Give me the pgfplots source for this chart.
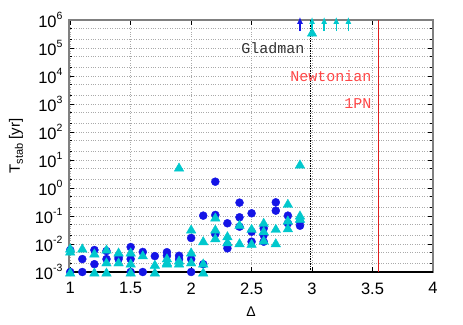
\documentclass[border=0pt]{standalone}
\usepackage{fontspec}
\setmainfont{Liberation Sans}
\newfontfamily\monofont{Liberation Mono}
\usepackage{pgfplots}
\pgfplotsset{compat=1.18}
\usetikzlibrary{arrows.meta}

\definecolor{ptblue}{RGB}{20,20,230}
\definecolor{ptcyan}{RGB}{0,200,205}
\definecolor{gridgray}{RGB}{170,170,170}
\definecolor{linered}{RGB}{225,30,30}
\definecolor{txtred}{RGB}{255,70,70}

\newcommand{\ex}[1]{10\raisebox{7.5pt}{\fontsize{10.5}{12}\selectfont #1}}

\begin{document}
\begin{tikzpicture}
\begin{axis}[
    at={(0,0)}, anchor=south west,
    scale only axis,
    width=364pt, height=252pt,
    ymode=log, log basis y=10,
    xmin=0.99, xmax=4,
    ymin=1e-3, ymax=1e6,
    clip=false,
    xtick={1,1.5,2,2.5,3,3.5,4},
    xticklabels={1,1.5,2,2.5,3,3.5,4},
    ytick={1e-3,1e-2,1e-1,1,1e1,1e2,1e3,1e4,1e5,1e6},
    yticklabels={\ex{-3},\ex{-2},\ex{-1},\ex{0},\ex{1},\ex{2},\ex{3},\ex{4},\ex{5},\ex{6}},
    minor ytick={2e-3,5e-3,2e-2,5e-2,2e-1,5e-1,2,5,20,50,200,500,2e3,5e3,2e4,5e4,2e5,5e5},
    grid=both,
    major grid style={gridgray, dotted, line width=0.8pt},
    minor grid style={gridgray, dotted, line width=0.8pt},
    tick align=inside,
    major tick length=5pt, minor tick length=3pt,
    tick style={black, line width=0.8pt},
    axis line style={gray, line width=1.6pt},
    tick label style={font=\fontsize{16.5}{18}\selectfont},
    xticklabel style={yshift=-7pt},
    yticklabel style={xshift=-3pt},
    xlabel={Δ},
    ylabel={T\raisebox{-3pt}{\fontsize{11}{12}\selectfont stab} [yr]},
    xlabel style={font=\fontsize{14}{16}\selectfont, yshift=-6pt},
    ylabel style={font=\fontsize{15}{17}\selectfont, yshift=5pt},
]
% bottom axis line in black
\draw[black, line width=1.4pt] (rel axis cs:0,0) -- (rel axis cs:1,0);

% Gladman limit and 1PN limit
\addplot[black, line width=1.1pt, dash pattern=on 1.5pt off 1pt] coordinates {(2.99,1e-3) (2.99,1e6)};
\addplot[linered, line width=1.3pt] coordinates {(3.55,1e-3) (3.55,1e6)};

\node[anchor=east, font=\monofont\fontsize{15}{16}\selectfont, text=black!80] at (axis cs:2.965,1e5) {Gladman};
\node[anchor=east, font=\monofont\fontsize{15}{16}\selectfont, text=txtred] at (axis cs:3.52,1e4) {Newtonian};
\node[anchor=east, font=\monofont\fontsize{15}{16}\selectfont, text=txtred] at (axis cs:3.52,1e3) {1PN};

% blue circles
\addplot[only marks, mark=*, mark size=4pt, ptblue] coordinates {
(1.0,6.1e-3) (1.0,1e-3)
(1.1,2.9e-3) (1.1,1e-3)
(1.2,6.1e-3) (1.2,1.9e-3)
(1.3,5.6e-3) (1.3,2.9e-3)
(1.4,3.4e-3) (1.4,2.9e-3)
(1.5,7.8e-3) (1.5,2.9e-3) (1.5,1e-3)
(1.6,5.2e-3) (1.6,1e-3)
(1.7,3.7e-3)
(1.8,5.1e-3) (1.8,3.8e-3)
(1.9,3.8e-3) (1.9,2.9e-3)
(2.0,0.0164) (2.0,2.9e-3) (2.0,1e-3)
(2.1,0.103) (2.1,1.9e-3)
(2.2,1.68) (2.2,0.109) (2.2,0.0228)
(2.3,0.055) (2.3,0.0092) (2.3,0.0070)
(2.4,0.30) (2.4,0.090) (2.4,0.0415)
(2.5,0.125) (2.5,0.0275) (2.5,0.0121)
(2.6,0.0363) (2.6,0.021) (2.6,0.0121)
(2.7,0.308) (2.7,0.155)
(2.8,0.103) (2.8,0.055)
(2.9,0.0625) (2.9,0.045)
};

% cyan triangles
\addplot[only marks, mark=triangle*, mark size=5.5pt, ptcyan,
    mark options={yshift=-1.4pt}] coordinates {
(1.0,7.2e-3) (1.0,5.6e-3) (1.0,1e-3)
(1.1,7.2e-3)
(1.2,4.8e-3) (1.2,1e-3)
(1.3,6.6e-3) (1.3,2.3e-3) (1.3,1e-3)
(1.4,5.2e-3) (1.4,2.3e-3)
(1.5,5.2e-3) (1.5,2.1e-3) (1.5,1e-3)
(1.6,4.1e-3)
(1.7,1.9e-3) (1.7,1e-3)
(1.8,3.2e-3) (1.8,2.3e-3) (1.8,2.1e-3)
(1.9,5.6) (1.9,2.7e-3) (1.9,2.1e-3)
(2.0,0.0343) (2.0,5.2e-3) (2.0,2.3e-3)
(2.1,0.0131) (2.1,2.1e-3) (2.1,1e-3)
(2.2,0.092) (2.2,0.0343) (2.2,0.0168)
(2.3,0.0198) (2.3,0.0121)
(2.4,0.0506) (2.4,0.0111)
(2.5,0.0363) (2.5,0.0106)
(2.6,0.0595) (2.6,0.0299) (2.6,0.0139)
(2.7,0.0363) (2.7,0.0111)
(2.8,0.284) (2.8,0.072) (2.8,0.038)
(2.9,7.2) (2.9,0.109) (2.9,0.083)
(3.0,3.7e5)
};

% lower limits (stable beyond the run time)
\addplot[ptcyan, line width=1.5pt, -{Latex[length=7pt,width=6pt]}] coordinates {(3.0,4e5) (3.0,1.3e6)};
\addplot[ptcyan, line width=1.5pt, -{Latex[length=7pt,width=6pt]}] coordinates {(3.1,4e5) (3.1,1.3e6)};
\addplot[ptcyan, line width=1.5pt, -{Latex[length=7pt,width=6pt]}] coordinates {(3.2,4e5) (3.2,1.3e6)};
\addplot[ptcyan, line width=1.5pt, -{Latex[length=7pt,width=6pt]}] coordinates {(3.3,4e5) (3.3,1.3e6)};
\addplot[ptblue, line width=1.5pt, -{Latex[length=7pt,width=6pt]}] coordinates {(2.9,4e5) (2.9,1.3e6)};
\end{axis}
\pgfresetboundingbox
\path (-69pt,-52pt) rectangle (394pt,272pt);
\end{tikzpicture}
\end{document}
